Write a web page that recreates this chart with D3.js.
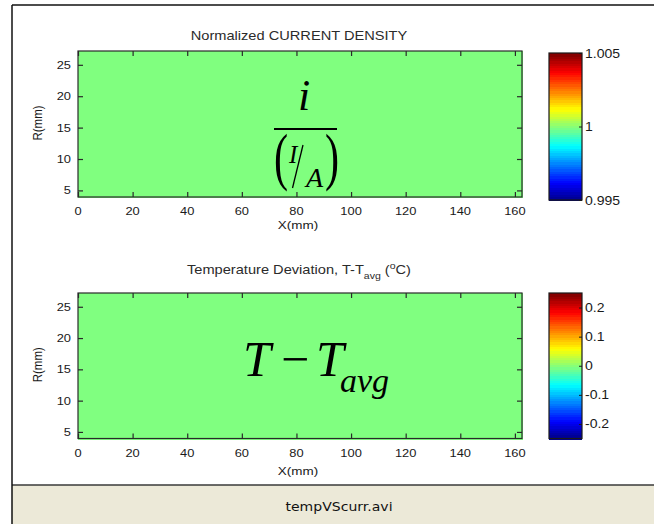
<!DOCTYPE html>
<html>
<head>
<meta charset="utf-8">
<script src="https://cdn.jsdelivr.net/npm/d3@7"></script>
<style>
  html, body { margin: 0; padding: 0; background: #ffffff; }
  svg { display: block; }
</style>
</head>
<body>
<script>
// ---------------- data ----------------
const xTicks = [0, 20, 40, 60, 80, 100, 120, 140, 160];
const rTicks = [5, 10, 15, 20, 25];
const xDomain = [0, 162.6];
const rDomain = [3.95, 27.2];

// mesh edges of the field (mm)
const meshX = [0, 20, 40, 60, 80, 100, 120, 140, 162.6];
const meshR = [3.95, 10, 16, 22, 27.2];

// normalized current density i/(I/A): uniform field
const currentDensity = [
  [1.000, 1.000, 1.000, 1.000, 1.000, 1.000, 1.000, 1.000],
  [1.000, 1.000, 1.000, 1.000, 1.000, 1.000, 1.000, 1.000],
  [1.000, 1.000, 1.000, 1.000, 1.000, 1.000, 1.000, 1.000],
  [1.000, 1.000, 1.000, 1.000, 1.000, 1.000, 1.000, 1.000]
];
// temperature deviation T - Tavg (°C): uniform field
const tempDeviation = [
  [0.000, 0.000, 0.000, 0.000, 0.000, 0.000, 0.000, 0.000],
  [0.000, 0.000, 0.000, 0.000, 0.000, 0.000, 0.000, 0.000],
  [0.000, 0.000, 0.000, 0.000, 0.000, 0.000, 0.000, 0.000],
  [0.000, 0.000, 0.000, 0.000, 0.000, 0.000, 0.000, 0.000]
];

const currentCLim = [0.995, 1.005];
const currentCTicks = [0.995, 1, 1.005];
const currentCLabels = ["0.995", "1", "1.005"];
const tempCLim = [-0.25, 0.25];
const tempCTicks = [-0.2, -0.1, 0, 0.1, 0.2];
const tempCLabels = ["-0.2", "-0.1", "0", "0.1", "0.2"];

const fileName = "tempVScurr.avi";

// ---------------- helpers ----------------
const W = 654, H = 524;
const SX = 1.17; // horizontal stretch of the captured frame
const sans = "'Liberation Sans', Arial, sans-serif";
const serif = "'Liberation Serif', 'Times New Roman', serif";

function jet(t) {
  const c = v => Math.max(0, Math.min(1, v));
  const r = c(1.5 - Math.abs(4 * t - 3));
  const g = c(1.5 - Math.abs(4 * t - 2));
  const b = c(1.5 - Math.abs(4 * t - 1));
  return d3.rgb(r * 255, g * 255, b * 255).formatHex();
}

const svg = d3.select("body").append("svg")
  .attr("width", W).attr("height", H)
  .attr("viewBox", `0 0 ${W} ${H}`);

svg.append("rect").attr("width", W).attr("height", H).attr("fill", "#ffffff");

function label(g, x, y, str, opt = {}) {
  const grp = g.append("g")
    .attr("transform", `translate(${x},${y}) scale(${opt.sx || SX},1)` + (opt.rotate ? ` rotate(${opt.rotate})` : ""));
  const t = grp.append("text")
    .attr("x", 0).attr("y", 0)
    .attr("text-anchor", opt.anchor || "start")
    .attr("font-family", opt.family || sans)
    .attr("font-size", opt.size || 11)
    .attr("font-style", opt.style || "normal")
    .attr("fill", opt.fill || "#1a1a1a");
  if (str !== null) t.text(str);
  return t;
}

// ---------------- panel drawing ----------------
const plotLeft = 78, plotRight = 522;

function panel(cfg) {
  const g = svg.append("g");
  const x = d3.scaleLinear().domain(xDomain).range([plotLeft, plotRight]);
  const y = d3.scaleLinear().domain(rDomain).range([cfg.bottom, cfg.top]);
  const cnorm = d3.scaleLinear().domain(cfg.clim).range([0, 1]).clamp(true);

  // field cells
  const cells = [];
  cfg.field.forEach((row, i) => row.forEach((v, j) => cells.push({i, j, v})));
  g.append("g").selectAll("rect").data(cells).join("rect")
    .attr("x", d => Math.floor(x(meshX[d.j])))
    .attr("y", d => Math.floor(y(meshR[d.i + 1])))
    .attr("width", d => Math.ceil(x(meshX[d.j + 1])) - Math.floor(x(meshX[d.j])) + 1)
    .attr("height", d => Math.ceil(y(meshR[d.i])) - Math.floor(y(meshR[d.i + 1])) + 1)
    .attr("fill", d => jet(cnorm(d.v)))
    .attr("shape-rendering", "crispEdges");

  // box
  g.append("rect")
    .attr("x", x.range()[0]).attr("y", y.range()[1])
    .attr("width", x.range()[1] - x.range()[0])
    .attr("height", y.range()[0] - y.range()[1])
    .attr("fill", "none").attr("stroke", "#2a2a2a").attr("stroke-width", 1.2);

  // inward ticks (MATLAB style) using d3 axes
  const tl = 5;
  g.append("g").attr("transform", `translate(0,${cfg.bottom})`)
    .call(d3.axisTop(x).tickValues(xTicks).tickSize(tl).tickFormat(""))
    .call(a => a.select(".domain").remove());
  g.append("g").attr("transform", `translate(0,${cfg.top})`)
    .call(d3.axisBottom(x).tickValues(xTicks).tickSize(tl).tickFormat(""))
    .call(a => a.select(".domain").remove());
  g.append("g").attr("transform", `translate(${plotLeft},0)`)
    .call(d3.axisRight(y).tickValues(rTicks).tickSize(tl).tickFormat(""))
    .call(a => a.select(".domain").remove());
  g.append("g").attr("transform", `translate(${plotRight},0)`)
    .call(d3.axisLeft(y).tickValues(rTicks).tickSize(tl).tickFormat(""))
    .call(a => a.select(".domain").remove());
  g.selectAll(".tick line").attr("stroke", "#2a2a2a").attr("stroke-width", 1.2);

  // tick labels
  xTicks.forEach(v => label(g, x(v), cfg.bottom + 18, String(v), {anchor: "middle", size: 11}));
  rTicks.forEach(v => label(g, 71, y(v) + 4, String(v), {anchor: "end", size: 11}));

  // axis labels
  label(g, 298, cfg.xlabY, "X(mm)", {anchor: "middle", size: 11.5});
  label(g, 42, (cfg.top + cfg.bottom) / 2 - 1, "R(mm)", {anchor: "middle", size: 11.5, rotate: -90});

  // colorbar
  const cb = {x0: 549, x1: 582, top: cfg.cbTop, bottom: cfg.cbBottom};
  const cy = d3.scaleLinear().domain(cfg.clim).range([cb.bottom, cb.top]);
  const nLev = 64;
  const levels = d3.range(nLev);
  const step = (cfg.clim[1] - cfg.clim[0]) / nLev;
  g.append("g").selectAll("rect").data(levels).join("rect")
    .attr("x", cb.x0)
    .attr("y", k => Math.floor(cy(cfg.clim[0] + (k + 1) * step)))
    .attr("width", cb.x1 - cb.x0)
    .attr("height", k => Math.ceil(cy(cfg.clim[0] + k * step)) - Math.floor(cy(cfg.clim[0] + (k + 1) * step)) + 0.5)
    .attr("fill", k => jet((k + 0.5) / nLev))
    .attr("shape-rendering", "crispEdges");
  g.append("rect")
    .attr("x", cb.x0).attr("y", cb.top)
    .attr("width", cb.x1 - cb.x0).attr("height", cb.bottom - cb.top)
    .attr("fill", "none").attr("stroke", "#1a1a1a").attr("stroke-width", 1.2);
  g.append("g").attr("transform", `translate(${cb.x1},0)`)
    .call(d3.axisLeft(cy).tickValues(cfg.cticks).tickSize(3).tickFormat(""))
    .call(a => a.select(".domain").remove())
    .selectAll(".tick line").attr("stroke", "#1a1a1a");
  cfg.cticks.forEach((v, k) =>
    label(g, cb.x1 + 3, cy(v) + 4.5, cfg.clabels[k], {anchor: "start", size: 12}));

  return {g, x, y};
}

// ---------------- frame ----------------
svg.append("rect").attr("x", 12).attr("y", 485).attr("width", W - 12).attr("height", H - 485)
  .attr("fill", "#ECE9D8");
svg.append("line").attr("x1", 12).attr("x2", W).attr("y1", 485).attr("y2", 485)
  .attr("stroke", "#3a3a3a").attr("stroke-width", 1.5);
svg.append("line").attr("x1", 12).attr("x2", W).attr("y1", 5).attr("y2", 5)
  .attr("stroke", "#111").attr("stroke-width", 1.5);
svg.append("line").attr("x1", 12).attr("x2", 12).attr("y1", 5).attr("y2", H)
  .attr("stroke", "#111").attr("stroke-width", 1.5);
label(svg, 339, 511, fileName, {anchor: "middle", size: 12, family: "'DejaVu Sans', Verdana, sans-serif", fill: "#111"});

// ---------------- panels ----------------
const panelCurrent = panel({
  top: 51, bottom: 197, field: currentDensity, clim: currentCLim,
  cticks: currentCTicks, clabels: currentCLabels, cbTop: 53, cbBottom: 200, xlabY: 229
});
const panelTemp = panel({
  top: 293, bottom: 438.5, field: tempDeviation, clim: tempCLim,
  cticks: tempCTicks, clabels: tempCLabels, cbTop: 293, cbBottom: 438.5, xlabY: 475
});

// titles
label(svg, 299, 40, "Normalized CURRENT DENSITY", {anchor: "middle", size: 12.5, fill: "#2b2b2b"});
const t2 = label(svg, 299, 274, null, {anchor: "middle", size: 12.5, fill: "#2b2b2b"});
t2.append("tspan").text("Temperature Deviation, T-T");
t2.append("tspan").attr("font-size", 9).attr("dy", 5).text("avg");
t2.append("tspan").attr("dy", -5).text(" (");
t2.append("tspan").attr("font-size", 9).attr("dy", -5).text("o");
t2.append("tspan").attr("dy", 5).text("C)");

// ---------------- formula overlays ----------------
const f1 = svg.append("g");
label(f1, 298, 110, "i", {size: 44, family: serif, style: "italic", fill: "#000", sx: 1});
f1.append("line").attr("x1", 274).attr("x2", 337).attr("y1", 129).attr("y2", 129)
  .attr("stroke", "#000").attr("stroke-width", 2);
label(f1, 274, 178, "(", {size: 64, family: serif, fill: "#000", sx: 0.66});
label(f1, 289, 163, "I", {size: 25, family: serif, style: "italic", fill: "#000", sx: 1});
label(f1, 306, 187, "A", {size: 28, family: serif, style: "italic", fill: "#000", sx: 1});
label(f1, 325, 178, ")", {size: 64, family: serif, fill: "#000", sx: 0.66});
f1.append("line").attr("x1", 303).attr("y1", 145).attr("x2", 292.5).attr("y2", 188)
  .attr("stroke", "#000").attr("stroke-width", 1.3);

const f2 = svg.append("text").attr("fill", "#000").attr("font-family", serif).attr("font-size", 50);
f2.append("tspan").attr("x", 243).attr("y", 376).attr("font-style", "italic").text("T");
f2.append("tspan").attr("x", 281).attr("y", 376).text("\u2212");
f2.append("tspan").attr("x", 316).attr("y", 376).attr("font-style", "italic").text("T");
f2.append("tspan").attr("x", 340).attr("y", 392).attr("font-size", 34).attr("font-style", "italic").text("avg");
</script>
</body>
</html>
